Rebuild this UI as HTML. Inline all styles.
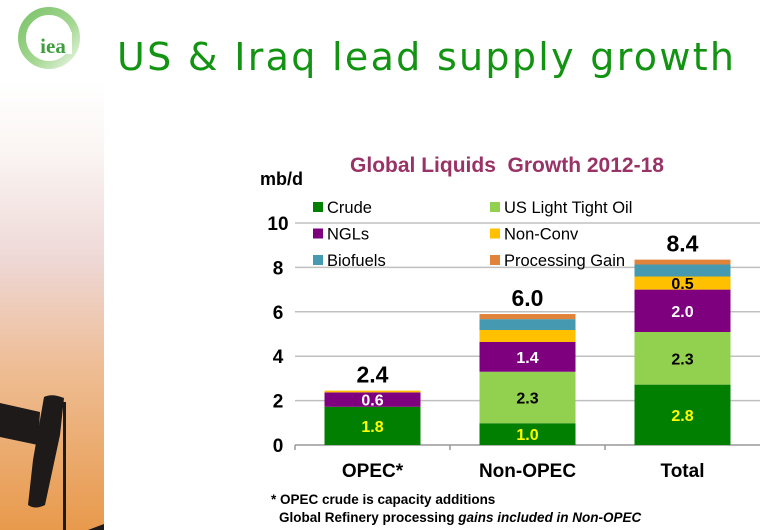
<!DOCTYPE html>
<html><head><meta charset="utf-8"><style>
html,body{margin:0;padding:0;background:#fff;}
svg{display:block;font-family:"Liberation Sans",sans-serif;}
</style></head><body>
<svg id="s" width="763" height="530" viewBox="0 0 763 530">
<defs>
<linearGradient id="bg" x1="0" y1="0" x2="0" y2="1">
<stop offset="0" stop-color="#ffffff"/>
<stop offset="0.15" stop-color="#fbf6f4"/>
<stop offset="0.4" stop-color="#eed8d6"/>
<stop offset="0.65" stop-color="#eebc92"/>
<stop offset="1" stop-color="#e89a4c"/>
</linearGradient>
<linearGradient id="lg" x1="0" y1="0" x2="1" y2="1">
<stop offset="0" stop-color="#7cc36a"/><stop offset="0.6" stop-color="#a6d894"/><stop offset="1" stop-color="#e6f4df"/>
</linearGradient>
</defs>
<rect x="0" y="80" width="104" height="450" fill="url(#bg)"/>
<g fill="#1e1a1a">
<path d="M0 403 L40 412 L38 445 L0 437 Z"/>
<path d="M44 397 Q52 393 64 398 L60 435 L45 505 Q35 510 28 505 L33 460 Z"/>
<rect x="63" y="402" width="3" height="128"/>
<path d="M88 530 L104 524 L104 530 Z"/>
</g>
<g>
<circle cx="49" cy="38" r="27" fill="none" stroke="url(#lg)" stroke-width="8"/>
<rect x="34" y="32" width="38" height="22" fill="#fff"/>
<text x="53" y="53" font-family="Liberation Serif,serif" font-weight="bold" font-size="21" fill="#3f9f3f" text-anchor="middle">iea</text>
</g>
<text x="117" y="70" font-family="DejaVu Sans,sans-serif" font-size="38" fill="#129412" textLength="617" lengthAdjust="spacing">US &amp; Iraq lead supply growth</text>
<text x="507" y="172" text-anchor="middle" font-weight="bold" font-size="21" fill="#993366" xml:space="preserve">Global Liquids  Growth 2012-18</text>
<text x="260" y="185" font-weight="bold" font-size="18" fill="#000">mb/d</text>
<g id="grid"></g>
<g id="bars"></g>
<g id="legend"></g>
<text x="271" y="504" font-weight="bold" font-size="13.5">* OPEC crude is capacity  additions</text>
<text x="279" y="522" font-weight="bold" font-size="13.5">Global Refinery processing  <tspan font-style="italic">gains included in Non-OPEC</tspan></text>
</svg>
<script>
const categories=["OPEC*","Non-OPEC","Total"];
const seriesNames=["Crude","US Light Tight  Oil","NGLs","Non-Conv","Biofuels","Processing Gain"];
const crude=[1.72,0.98,2.72];
const lto=[0,2.32,2.37];
const ngl=[0.65,1.34,1.91];
const nonconv=[0.08,0.54,0.59];
const biofuels=[0,0.49,0.54];
const procGain=[0,0.23,0.22];
const totalLabels=["2.4","6.0","8.4"];
const segLabels=[["1.8","","0.6","","",""],["1.0","2.3","1.4","","",""],["2.8","2.3","2.0","0.5","",""]];
const yTicks=[0,2,4,6,8,10];
const colors=["#007f00","#92d050","#7f007f","#ffc000","#4599b0","#e0843c"];
const labelColors=["#ffff00","#000","#fff","#000","#000","#000"];
const NS="http://www.w3.org/2000/svg";
const X0=295,X1=760,Y0=445,PX=22.2;
const y=v=>Y0-v*PX;
const bandW=(X1-X0)/categories.length;
const xc=i=>X0+bandW*(i+0.5);
const BW=96;
function mk(tag,attrs,parent,txt){const e=document.createElementNS(NS,tag);for(const k in attrs)e.setAttribute(k,attrs[k]);if(txt!==undefined)e.textContent=txt;parent.appendChild(e);return e;}
const grid=document.getElementById('grid'),bars=document.getElementById('bars'),leg=document.getElementById('legend');
yTicks.forEach(t=>{
  if(t>0){const l=mk('line',{x1:X0,x2:X1,y1:y(t),y2:y(t),stroke:'#c0c0c0','stroke-width':1.5},grid);
  
  }
  const tx=mk('text',{x:278,y:y(t)+7,'text-anchor':'middle','font-weight':'bold','font-size':19},grid,String(t));
  
  
});
const ax=mk('line',{x1:X0,x2:X1,y1:Y0,y2:Y0,stroke:'#999','stroke-width':1.5},grid);


for(let i=0;i<categories.length;i++){const tk=mk('line',{x1:X0+bandW*i,x2:X0+bandW*i,y1:Y0,y2:Y0+5,stroke:'#999','stroke-width':1.5},grid);

}
const series=[crude,lto,ngl,nonconv,biofuels,procGain];
categories.forEach((c,i)=>{
  let cum=0;
  series.forEach((s,j)=>{
    const v=s[i];
    if(v>0){
      const r=mk('rect',{x:xc(i)-BW/2,y:y(cum+v),width:BW,height:v*PX,fill:colors[j]},bars);
      
      
      const lbl=segLabels[i][j];
      if(lbl){
        let ly=y(cum+v/2)+6; if(ly>Y0-1) ly=Y0-1;
        const t=mk('text',{x:xc(i),y:ly,'text-anchor':'middle','font-weight':'bold','font-size':16,fill:labelColors[j]},bars,lbl);
        
        
      }
    }
    cum+=v;
  });
  const tt=mk('text',{x:xc(i),y:y(cum)-8,'text-anchor':'middle','font-weight':'bold','font-size':23},bars,totalLabels[i]);
  
  
  const cl=mk('text',{x:xc(i),y:477,'text-anchor':'middle','font-weight':'bold','font-size':19},bars,c);
  
  
});
seriesNames.forEach((n,j)=>{
  const col=j%2,row=Math.floor(j/2);
  const lx=col?490:313, ly=202+row*26.5;
  const g=mk('g',{},leg);
  
  
  mk('rect',{x:lx,y:ly,width:10,height:10,fill:colors[j]},g);
  mk('text',{x:lx+14,y:ly+11,'font-size':16.5,fill:'#000','xml:space':'preserve'},g,n);
});
</script>
</body></html>
